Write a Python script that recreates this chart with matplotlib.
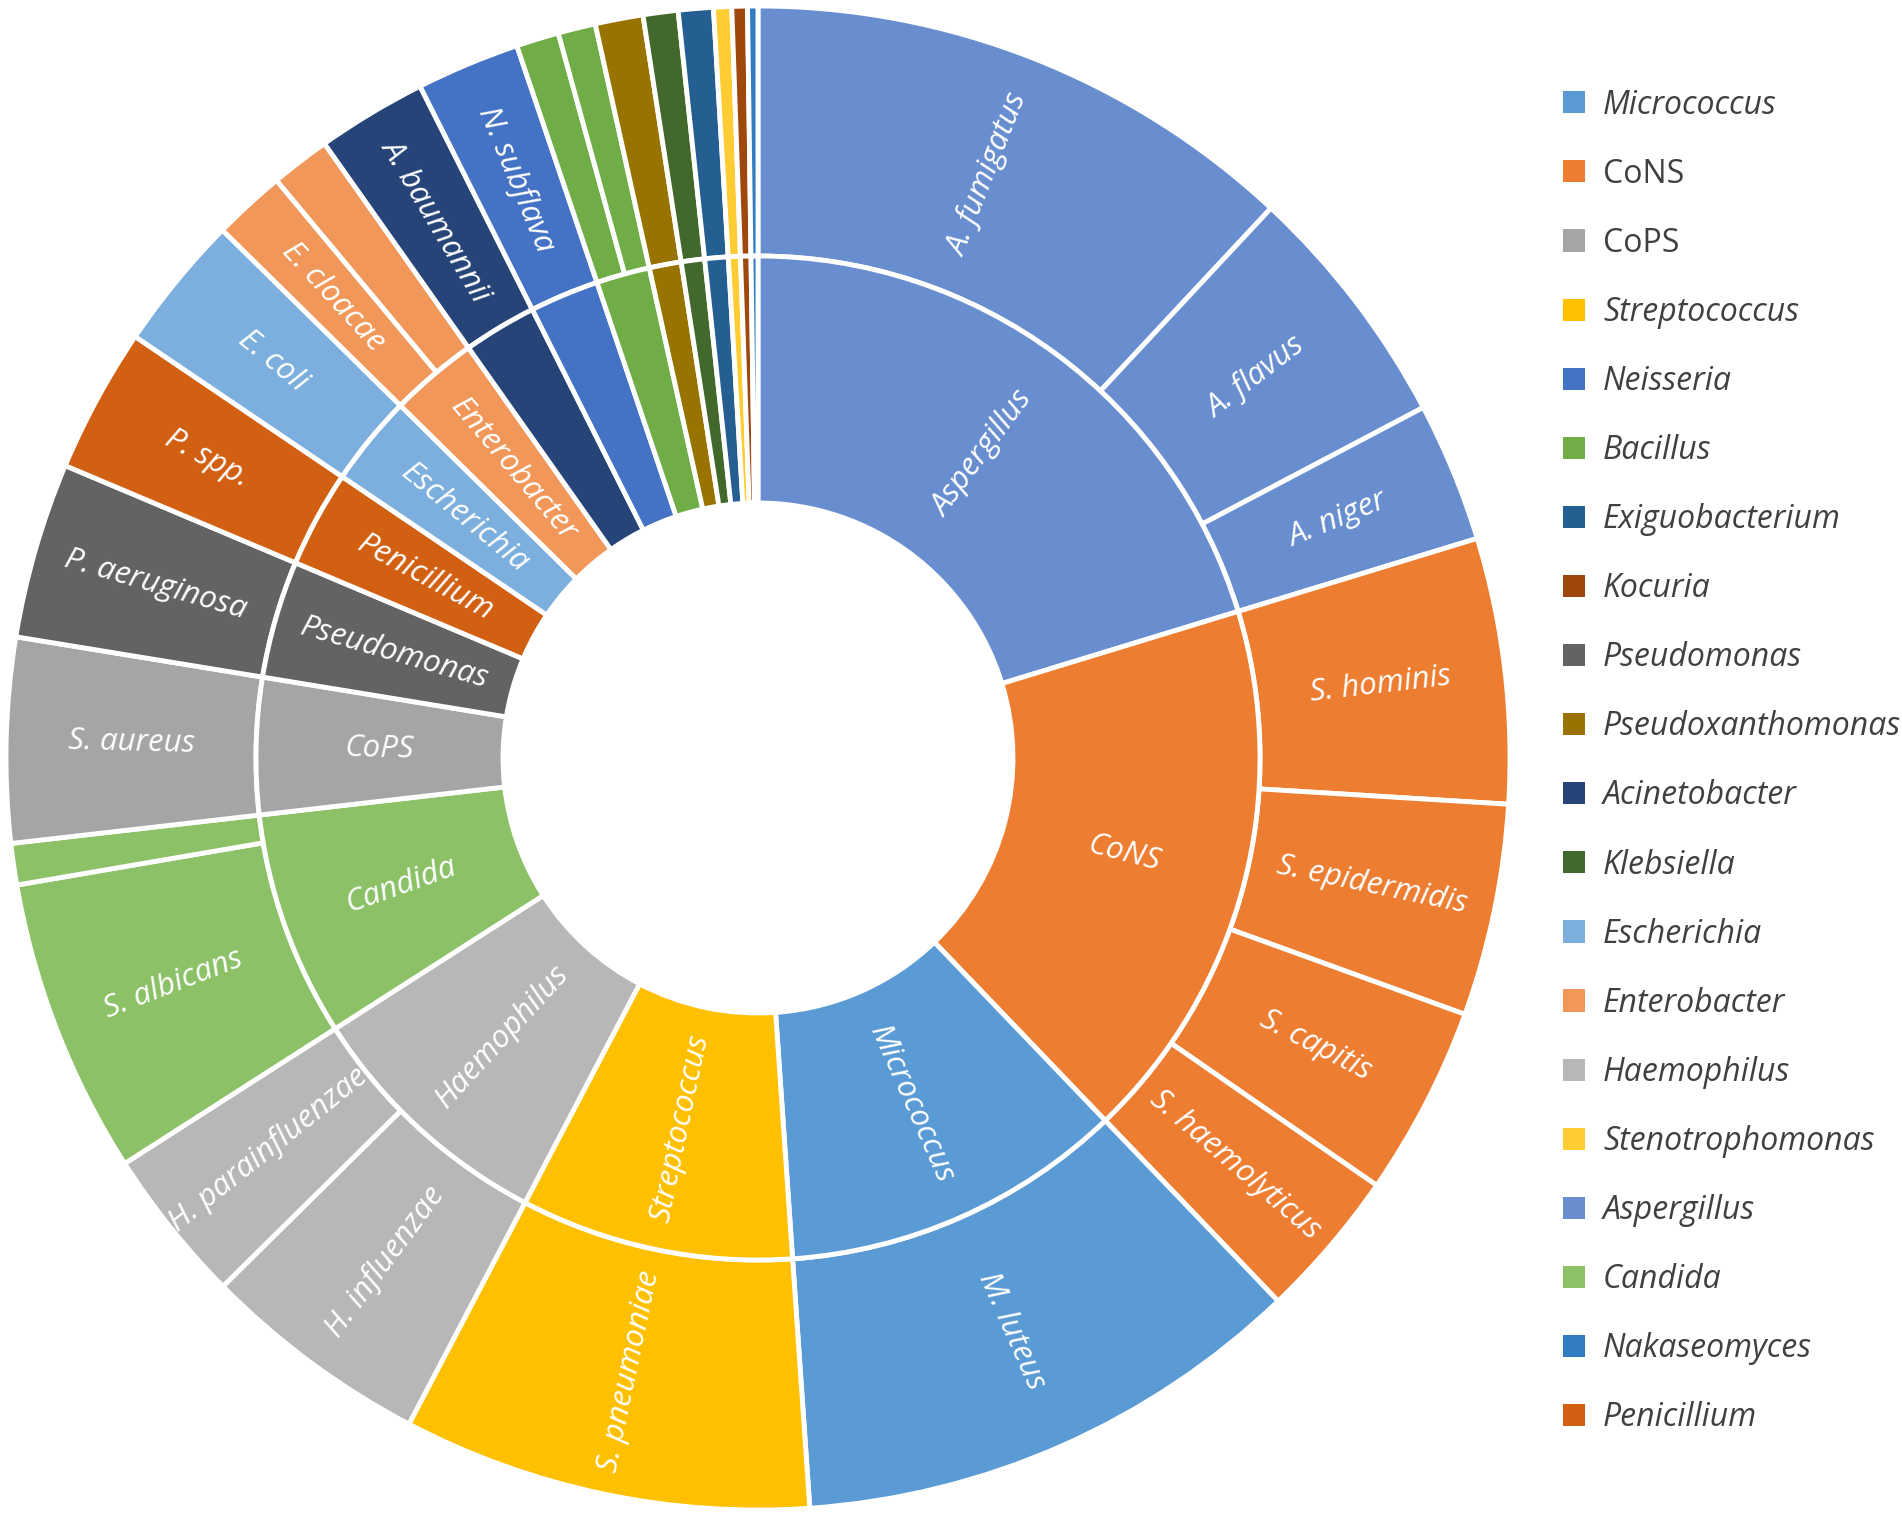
import numpy as np
import matplotlib
matplotlib.use("Agg")
import matplotlib.pyplot as plt
from matplotlib.patches import Patch

plt.rcParams['font.family'] = ['Open Sans', 'DejaVu Sans']

# genus order around the inner ring (clockwise from 12 o'clock)
genera = ["Aspergillus", "CoNS", "Micrococcus", "Streptococcus", "Haemophilus",
          "Candida", "CoPS", "Pseudomonas", "Penicillium", "Escherichia",
          "Enterobacter", "Acinetobacter", "Neisseria", "Bacillus",
          "Pseudoxanthomonas", "Klebsiella", "Exiguobacterium",
          "Stenotrophomonas", "Kocuria", "Nakaseomyces"]

# outer ring: species, the genus each belongs to, and share of isolates
species_genus = ["Aspergillus", "Aspergillus", "Aspergillus",
                 "CoNS", "CoNS", "CoNS", "CoNS",
                 "Micrococcus", "Streptococcus",
                 "Haemophilus", "Haemophilus",
                 "Candida", "Candida", "CoPS", "Pseudomonas", "Penicillium",
                 "Escherichia", "Enterobacter", "Enterobacter",
                 "Acinetobacter", "Neisseria", "Bacillus", "Bacillus",
                 "Pseudoxanthomonas", "Klebsiella", "Exiguobacterium",
                 "Stenotrophomonas", "Kocuria", "Nakaseomyces"]
species_names = ["A. fumigatus", "A. flavus", "A. niger",
                 "S. hominis", "S. epidermidis", "S. capitis", "S. haemolyticus",
                 "M. luteus", "S. pneumoniae",
                 "H. influenzae", "H. parainfluenzae",
                 "S. albicans", "", "S. aureus", "P. aeruginosa", "P. spp.",
                 "E. coli", "E. cloacae", "",
                 "A. baumannii", "N. subflava", "", "",
                 "", "", "", "", "", ""]
species_values = [43.0, 19.2, 10.8,
                  20.5, 16.4, 14.7, 11.6,
                  39.8, 31.6,
                  17.7, 12.0,
                  22.9, 3.2, 15.8, 13.6, 11.2,
                  10.5, 5.6, 4.6,
                  8.5, 8.0, 3.3, 2.9,
                  3.7, 2.7, 2.7, 1.4, 1.2, 0.8]

# labels drawn inside the inner ring
inner_labelled = ["Aspergillus", "CoNS", "Micrococcus", "Streptococcus",
                  "Haemophilus", "Candida", "CoPS", "Pseudomonas",
                  "Penicillium", "Escherichia", "Enterobacter"]

legend_order = ["Micrococcus", "CoNS", "CoPS", "Streptococcus", "Neisseria",
                "Bacillus", "Exiguobacterium", "Kocuria", "Pseudomonas",
                "Pseudoxanthomonas", "Acinetobacter", "Klebsiella",
                "Escherichia", "Enterobacter", "Haemophilus",
                "Stenotrophomonas", "Aspergillus", "Candida",
                "Nakaseomyces", "Penicillium"]

colors = {"Micrococcus": "#5B9BD5", "CoNS": "#ED7D31", "CoPS": "#A5A5A5",
          "Streptococcus": "#FFC000", "Neisseria": "#4472C4",
          "Bacillus": "#70AD47", "Exiguobacterium": "#255E91",
          "Kocuria": "#9E480E", "Pseudomonas": "#636363",
          "Pseudoxanthomonas": "#997300", "Acinetobacter": "#264478",
          "Klebsiella": "#43682B", "Escherichia": "#7CAFDD",
          "Enterobacter": "#F1975A", "Haemophilus": "#B7B7B7",
          "Stenotrophomonas": "#FFCD33", "Aspergillus": "#698ED0",
          "Candida": "#8CC168", "Nakaseomyces": "#327DC2",
          "Penicillium": "#D26012"}

genus_values = [sum(v for g, v in zip(species_genus, species_values) if g == gen)
                for gen in genera]

W, H = 1902, 1515
cx, cy, r_out, r_mid, r_hole = 758, 757, 752, 502, 255

fig = plt.figure(figsize=(W / 100, H / 100), dpi=100)
ax = fig.add_axes([(cx - r_out) / W, (cy - r_out) / H, 2 * r_out / W, 2 * r_out / H])

wp = dict(edgecolor="white", linewidth=3.5)
outer, _ = ax.pie(species_values, radius=1.0, startangle=90, counterclock=False,
                  colors=[colors[g] for g in species_genus],
                  wedgeprops=dict(width=(r_out - r_mid) / r_out, **wp))
inner, _ = ax.pie(genus_values, radius=r_mid / r_out, startangle=90, counterclock=False,
                  colors=[colors[g] for g in genera],
                  wedgeprops=dict(width=(r_mid - r_hole) / r_out, **wp))
ax.set_xlim(-1, 1)
ax.set_ylim(-1, 1)
ax.axis("off")


def put_label(wedge, text, r):
    mid = 0.5 * (wedge.theta1 + wedge.theta2)
    rot = (mid + 90) % 180 - 90
    x, y = r * np.cos(np.radians(mid)), r * np.sin(np.radians(mid))
    ax.text(x, y, text, rotation=rot, rotation_mode="anchor", ha="center",
            va="center", color="white", fontsize=22.5, style="italic")


for w, name in zip(outer, species_names):
    if name:
        put_label(w, name, (r_out + r_mid) / 2 / r_out)
for w, name in zip(inner, genera):
    if name in inner_labelled:
        put_label(w, name, (r_mid + r_hole) / 2 / r_out)

handles = [Patch(facecolor=colors[g], edgecolor="none") for g in legend_order]
leg = fig.legend(handles, legend_order, loc="upper left",
                 bbox_to_anchor=(1563 / W, 1 - 88.5 / H), frameon=False,
                 fontsize=23, handlelength=0.69, handleheight=0.69,
                 handletextpad=0.56, labelspacing=1.13, borderpad=0,
                 borderaxespad=0, labelcolor="#404040")
for t in leg.get_texts():
    if t.get_text() not in ("CoNS", "CoPS"):
        t.set_style("italic")

fig.savefig("out.png", dpi=100)
